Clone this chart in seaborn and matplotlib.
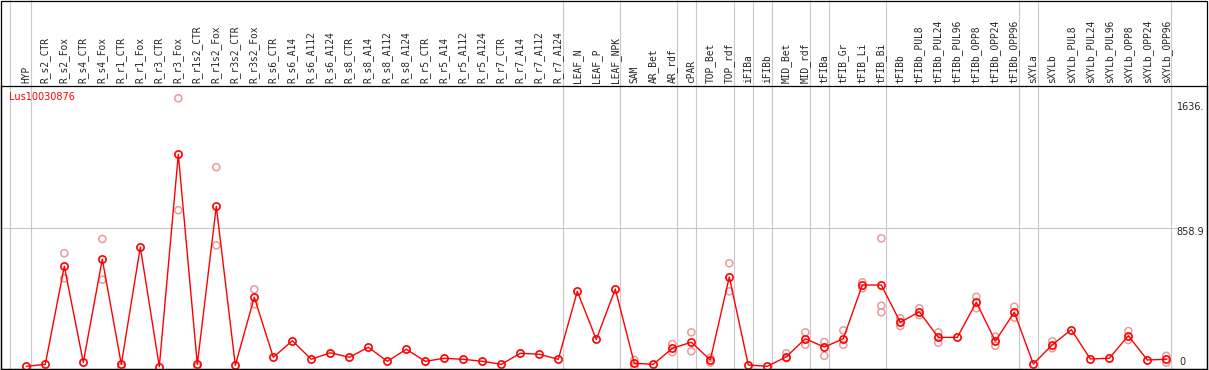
import matplotlib
matplotlib.use("Agg")
import matplotlib.pyplot as plt
import seaborn as sns
import pandas as pd

gene = "Lus10030876"

samples = ["HYP", "R_s2_CTR", "R_s2_Fox", "R_s4_CTR", "R_s4_Fox", "R_r1_CTR", "R_r1_Fox",
           "R_r3_CTR", "R_r3_Fox", "R_r1s2_CTR", "R_r1s2_Fox", "R_r3s2_CTR", "R_r3s2_Fox",
           "R_s6_CTR", "R_s6_A14", "R_s6_A112", "R_s6_A124", "R_s8_CTR", "R_s8_A14", "R_s8_A112",
           "R_s8_A124", "R_r5_CTR", "R_r5_A14", "R_r5_A112", "R_r5_A124", "R_r7_CTR", "R_r7_A14",
           "R_r7_A112", "R_r7_A124", "LEAF_N", "LEAF_P", "LEAF_NPK", "SAM", "AR_Bet", "AR_rdf",
           "cPAR", "TOP_Bet", "TOP_rdf", "iFIBa", "iFIBb", "MID_Bet", "MID_rdf", "tFIBa",
           "tFIB_Gr", "tFIB_Li", "tFIB_Bi", "tFIBb", "tFIBb_PUL8", "tFIBb_PUL24", "tFIBb_PUL96",
           "tFIBb_OPP8", "tFIBb_OPP24", "tFIBb_OPP96", "sXYLa", "sXYLb", "sXYLb_PUL8",
           "sXYLb_PUL24", "sXYLb_PUL96", "sXYLb_OPP8", "sXYLb_OPP24", "sXYLb_OPP96"]

# mean expression (the red line)
expr = [34, 46, 632, 58, 674, 46, 747, 32, 1301, 46, 990, 40, 447,
        88, 187, 76, 115, 88, 148, 64, 136, 64, 82, 76, 64, 46, 112, 106, 76,
        482, 195, 496, 52, 46, 142, 178, 72, 568, 42, 34, 91, 199, 149,
        199, 520, 520, 297, 360, 207, 207, 417, 185, 357, 48, 163, 253,
        78, 82, 217, 72, 76]

# individual replicates (pale circles)
rep_samples = ["R_s2_Fox", "R_s2_Fox", "R_s4_Fox", "R_s4_Fox", "R_r1_CTR", "R_r3_Fox", "R_r3_Fox",
               "R_r1s2_CTR", "R_r1s2_Fox", "R_r1s2_Fox", "R_r3s2_Fox", "R_r3s2_Fox",
               "SAM", "SAM", "AR_rdf", "AR_rdf", "cPAR", "cPAR", "TOP_Bet", "TOP_Bet",
               "TOP_rdf", "TOP_rdf", "MID_Bet", "MID_Bet", "MID_rdf", "MID_rdf", "tFIBa", "tFIBa",
               "tFIB_Gr", "tFIB_Gr", "tFIB_Li", "tFIB_Li", "tFIB_Bi", "tFIB_Bi", "tFIB_Bi",
               "tFIBb", "tFIBb", "tFIBb_PUL8", "tFIBb_PUL8", "tFIBb_PUL24", "tFIBb_PUL24",
               "tFIBb_OPP8", "tFIBb_OPP8", "tFIBb_OPP24", "tFIBb_OPP24", "tFIBb_OPP96", "tFIBb_OPP96",
               "sXYLb", "sXYLb", "sXYLb_OPP8", "sXYLb_OPP8", "sXYLb_OPP96", "sXYLb_OPP96"]
rep_expr = [710, 560, 795, 552, 30, 1636, 967,
            32, 1224, 757, 494, 405,
            72, 28, 167, 118, 237, 124, 56, 85,
            650, 482, 112, 82, 237, 163, 179, 97,
            249, 163, 536, 500, 799, 396, 357,
            321, 275, 381, 340, 237, 175,
            450, 381, 211, 157, 390, 325,
            184, 142, 245, 191, 97, 56]

# last sample of each group (gray separators)
group_ends = ["HYP", "R_r7_A124", "LEAF_NPK", "AR_rdf", "cPAR", "TOP_rdf", "iFIBa", "iFIBb",
              "MID_rdf", "tFIBa", "tFIB_Bi", "tFIBb_OPP96", "sXYLa", "sXYLb_OPP96"]

y_max_label = "1636."
y_mid = 858.9

W, H = 1209, 370
sns.set_style("white")
plt.rcParams["font.family"] = ["DejaVu Sans"]

df = pd.DataFrame({"pos": range(len(samples)), "expr": expr})
reps = pd.DataFrame({"pos": [samples.index(s) for s in rep_samples], "expr": rep_expr})

fig = plt.figure(figsize=(W / 100, H / 100), dpi=100)
ax = fig.add_axes([1 / W, 1 / H, 1206 / W, 283 / H])
ax.set_xlim(-1.332, 62.142)
ax.set_ylim(18, 1709.5)

red = "#ff0000"
pale = "#eb9a9a"

sns.scatterplot(data=reps, x="pos", y="expr", ax=ax, marker="o", s=26,
                facecolor="none", edgecolor=pale, linewidth=1.1, zorder=3, legend=False)
sns.lineplot(data=df, x="pos", y="expr", ax=ax, color=red, linewidth=1,
             marker="o", markersize=5.2, markerfacecolor="none", markeredgecolor=red,
             markeredgewidth=1.2, zorder=4, legend=False)

# separators, running up through the header
vlines = [-0.84] + [samples.index(s) + 0.23 for s in group_ends]
for x in vlines:
    ax.axvline(x, ymin=0, ymax=369 / 283, clip_on=False, color="#c8c8c8", lw=0.8, zorder=0)
ax.axhline(y_mid, xmax=0.976, color="#c8c8c8", lw=0.8, zorder=0)

ax.xaxis.set_ticks_position("top")
ax.set_xticks(range(len(samples)))
ax.set_xticklabels(samples, rotation=90, fontfamily="DejaVu Sans Mono", fontsize=6.9)
ax.tick_params(axis="x", length=0, pad=2.2)
ax.set_yticks([])
ax.set_xlabel("")
ax.set_ylabel("")
for sp in ax.spines.values():
    sp.set_color("black")
    sp.set_linewidth(0.9)

ax.text(0.0069, 0.960, gene, color=red, fontsize=7, transform=ax.transAxes, va="center", ha="left")
ax.text(0.975, 0.926, y_max_label, fontsize=7, transform=ax.transAxes, va="center", ha="left")
ax.text(0.975, 0.485, f"{y_mid}", fontsize=7, transform=ax.transAxes, va="center", ha="left")
ax.text(0.9768, 0.026, "0", fontsize=7, transform=ax.transAxes, va="center", ha="left")

# outer frame around header + plot
fig.add_artist(plt.Rectangle((1 / W, 1 / H), 1206 / W, 368.5 / H, transform=fig.transFigure,
                             fill=False, ec="black", lw=0.9))

fig.savefig("out.png", dpi=100)
